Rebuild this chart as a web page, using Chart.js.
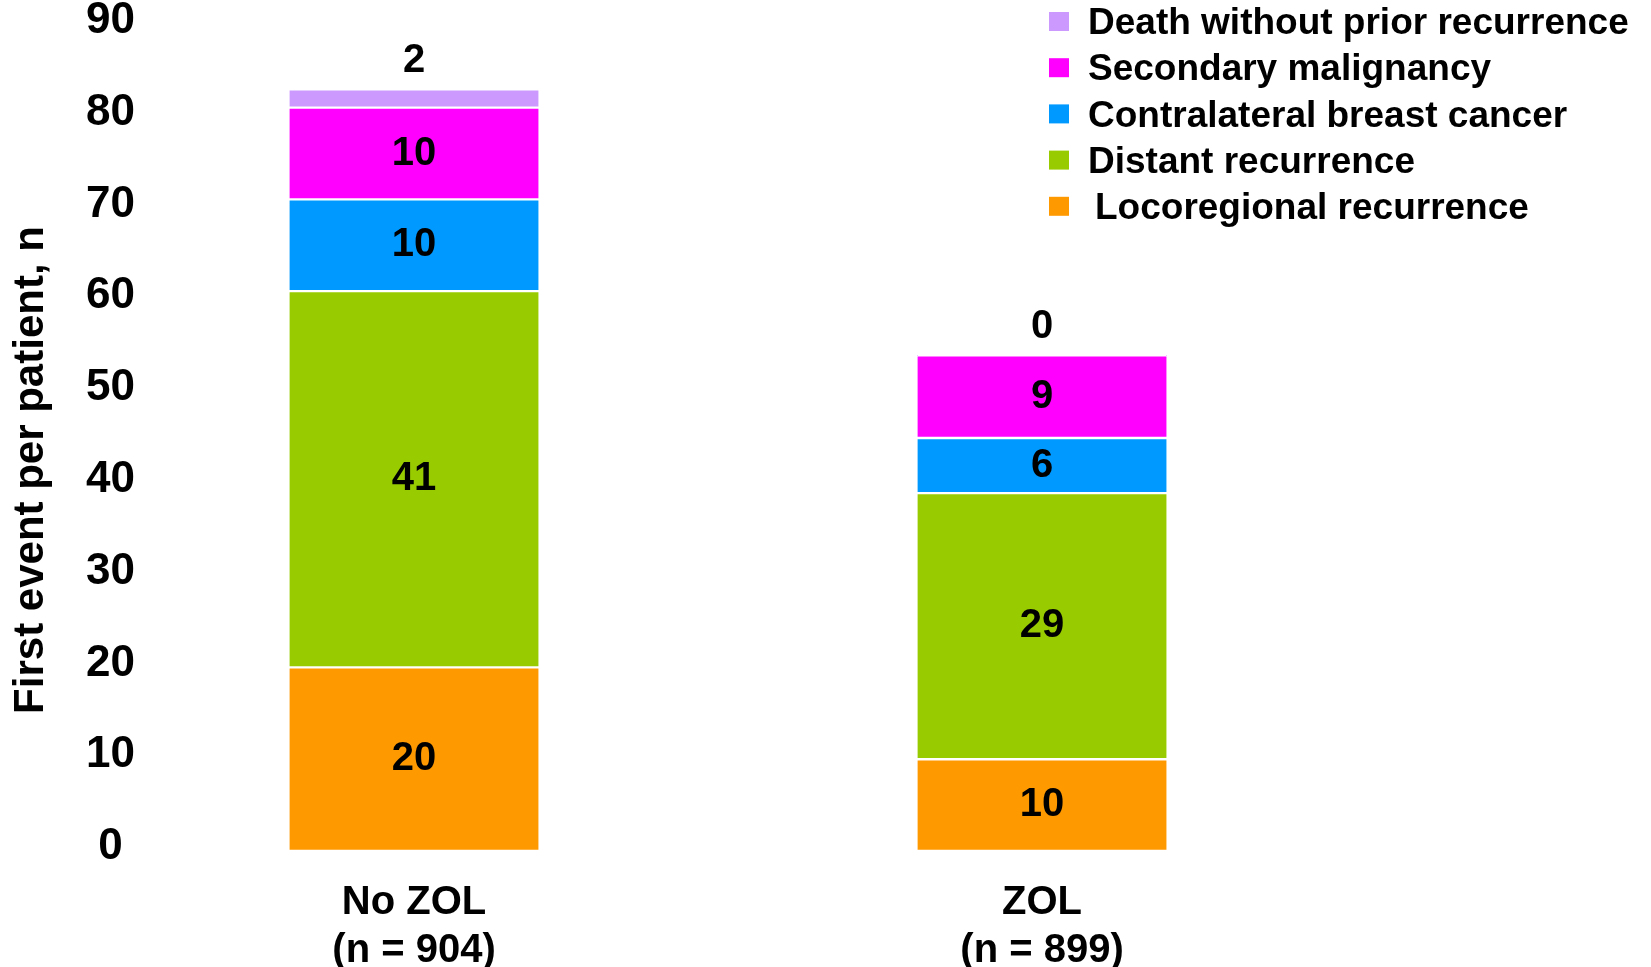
<!DOCTYPE html>
<html>
<head>
<meta charset="utf-8">
<script src="https://cdn.jsdelivr.net/npm/chart.js@4.4.1/dist/chart.umd.min.js"></script>
<style>
  html, body { margin: 0; padding: 0; background: #fff; }
  #wrap { width: 1651px; height: 967px; }
</style>
</head>
<body>
<div id="wrap"><canvas id="myChart" width="1651" height="967"></canvas></div>
<script>
const categories = ['No ZOL', 'ZOL'];
const sampleSizes = ['(n = 904)', '(n = 899)'];
const locoregional = [20, 10];
const distant = [41, 29];
const contralateral = [10, 6];
const secondary = [10, 9];
const death = [2, 0];
const seriesNames = ['Locoregional recurrence', 'Distant recurrence', 'Contralateral breast cancer', 'Secondary malignancy', 'Death without prior recurrence'];
const seriesColors = ['#FF9900', '#99CC00', '#0099FF', '#FF00FF', '#CC99FF'];
const yTitle = 'First event per patient, n';

const FONT = '"Liberation Sans", Arial, sans-serif';

function toPoints(values) {
    return values.map((v, i) => ({ x: i, y: v }));
}

const seriesValues = [locoregional, distant, contralateral, secondary, death];

// data labels inside segments, top series label sits above the stack
const segmentLabels = {
    id: 'segmentLabels',
    afterDatasetsDraw(chart) {
        const ctx = chart.ctx;
        ctx.save();
        ctx.font = 'bold 40px ' + FONT;
        ctx.fillStyle = '#000';
        ctx.textAlign = 'center';
        ctx.textBaseline = 'middle';
        const last = chart.data.datasets.length - 1;
        chart.data.datasets.forEach((ds, di) => {
            const meta = chart.getDatasetMeta(di);
            meta.data.forEach((bar, i) => {
                const v = ds.data[i].y;
                if (di === last) {
                    ctx.fillText(String(v), bar.x, bar.y - 28);
                } else {
                    ctx.fillText(String(v), bar.x, (bar.y + bar.base) / 2);
                }
            });
        });
        ctx.restore();
    }
};

// legend in the top right, reversed order like the original slide
const sideLegend = {
    id: 'sideLegend',
    afterDraw(chart) {
        const ctx = chart.ctx;
        ctx.save();
        ctx.font = 'bold 37px ' + FONT;
        ctx.textBaseline = 'middle';
        ctx.textAlign = 'left';
        const items = chart.data.datasets.slice().reverse();
        items.forEach((ds, k) => {
            const y = 23 + k * 46.2;
            ctx.fillStyle = ds.backgroundColor;
            ctx.fillRect(1049, y - 11, 20, 19);
            ctx.fillStyle = '#000';
            const pad = ds.label.startsWith('Locoregional') ? 7 : 0;
            ctx.fillText(ds.label, 1088 + pad, y + 1);
        });

        // rotated y axis title, placed a bit below the plot centre like the slide
        ctx.translate(31, 470);
        ctx.rotate(-Math.PI / 2);
        ctx.font = 'bold 42px ' + FONT;
        ctx.textAlign = 'center';
        ctx.fillText(yTitle, 0, 0);
        ctx.restore();
    }
};

const ctx = document.getElementById('myChart').getContext('2d');
const myChart = new Chart(ctx, {
    type: 'bar',
    data: {
        datasets: seriesNames.map((name, i) => ({
            label: name,
            data: toPoints(seriesValues[i]),
            backgroundColor: seriesColors[i],
            borderColor: '#ffffff',
            borderWidth: { top: 1.5, bottom: 1.5, left: 0, right: 0 },
            borderSkipped: false,
            barThickness: 249
        }))
    },
    options: {
        responsive: false,
        animation: false,
        layout: { padding: { top: 25, right: 0, left: 0, bottom: 0 } },
        plugins: {
            legend: { display: false },
            tooltip: { enabled: false }
        },
        scales: {
            x: {
                type: 'linear',
                stacked: true,
                offset: false,
                min: -0.4204,
                max: 1.9697,
                grid: { display: false, drawTicks: false },
                border: { display: false },
                afterBuildTicks: (axis) => {
                    axis.ticks = categories.map((c, i) => ({ value: i }));
                },
                afterFit: (axis) => { axis.height = 116; },
                ticks: {
                    autoSkip: false,
                    maxRotation: 0,
                    padding: 28,
                    color: '#000',
                    font: { family: FONT, size: 40, weight: 'bold', lineHeight: 1.2 },
                    callback: (value) => [categories[value], sampleSizes[value]]
                }
            },
            y: {
                stacked: true,
                min: 0,
                max: 90,
                grid: { display: false, drawTicks: false },
                border: { display: false },
                afterFit: (axis) => {
                    axis.width = 150;
                    axis.paddingTop = 0;
                    axis.paddingBottom = 0;
                },
                ticks: {
                    stepSize: 10,
                    padding: 15,
                    crossAlign: 'center',
                    labelOffset: -4,
                    color: '#000',
                    font: { family: FONT, size: 44, weight: 'bold' }
                }
            }
        }
    },
    plugins: [segmentLabels, sideLegend]
});
</script>
</body>
</html>
